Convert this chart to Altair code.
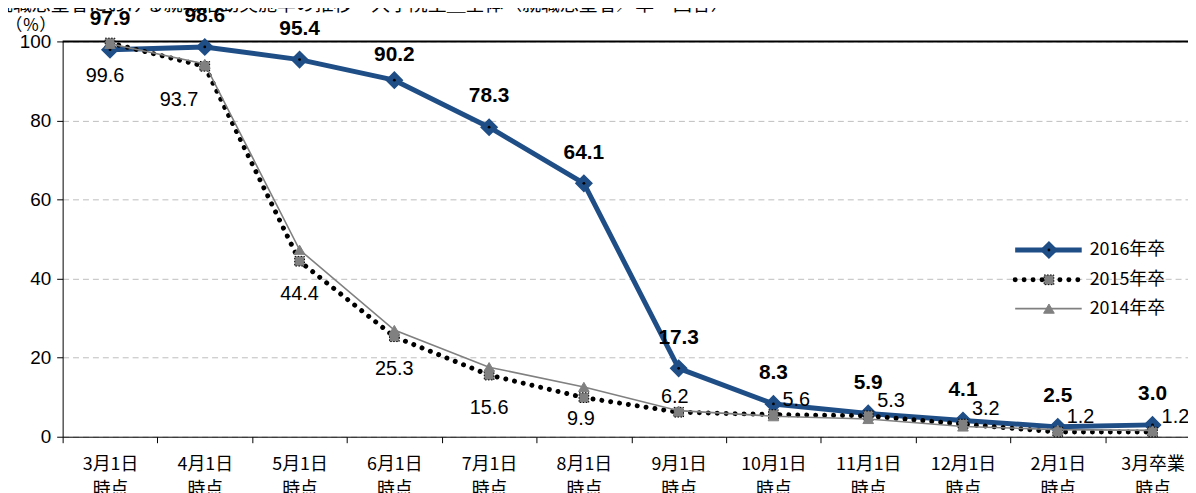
import altair as alt
import pandas as pd

# ---------------- data ----------------
categories = ["3月1日 時点", "4月1日 時点", "5月1日 時点", "6月1日 時点", "7月1日 時点",
              "8月1日 時点", "9月1日 時点", "10月1日 時点", "11月1日 時点", "12月1日 時点",
              "2月1日 時点", "3月卒業 時点"]
series_names = ["2016年卒", "2015年卒", "2014年卒"]
v2016 = [97.9, 98.6, 95.4, 90.2, 78.3, 64.1, 17.3, 8.3, 5.9, 4.1, 2.5, 3.0]
v2015 = [99.6, 93.7, 44.4, 25.3, 15.6, 9.9, 6.2, 5.6, 5.3, 3.2, 1.2, 1.2]
v2014 = [99.4, 94.3, 47.3, 27.0, 17.6, 12.6, 6.6, 5.2, 4.5, 2.6, 1.8, 1.6]
y_ticks = [0, 20, 40, 60, 80, 100]
title_text = "就職志望者における就職活動実施率の推移　大学院生＿全体（就職志望者／単一回答）"
unit_text = "（％）"


def frame(values):
    return pd.DataFrame({"cat": categories, "value": values,
                         "idx": list(range(len(values))),
                         "label": [f"{v:.1f}" for v in values]})


d16, d15, d14 = frame(v2016), frame(v2015), frame(v2014)

# ---------------- style ----------------
BLUE = "#1F4E87"
GRAY = "#808080"
NUM_FONT = "Liberation Sans Narrow, Arial Narrow, Liberation Sans, Arial"
BOLD_FONT = "Liberation Sans, Arial"
CJK_FONT = "Noto Sans CJK JP"
PLOT_W = 1145   # full band range (right part runs past the picture edge)
VIEW_W = 1133
VIEW_H = 398

x_enc = alt.X("cat:N", title=None,
              scale=alt.Scale(type="band", domain=categories, range=[0, PLOT_W],
                              paddingInner=0, paddingOuter=0),
              axis=alt.Axis(labelExpr="isValid(datum.value) ? split(datum.value, ' ') : ''",
                            labelAngle=0,
                            tickBand="extent", tickSize=6, tickColor="black",
                            domainColor="black", labelPadding=13, labelLineHeight=25,
                            labelFont=CJK_FONT, labelFontSize=18, labelColor="black",
                            labelBaseline="top", grid=False))
y_enc = alt.Y("value:Q", title=None,
              scale=alt.Scale(domain=[0, 100], nice=False),
              axis=alt.Axis(values=y_ticks, tickSize=6, tickColor="black",
                            domainColor="black", labelPadding=6,
                            labelFont=NUM_FONT, labelFontSize=19, labelColor="black",
                            grid=True, gridColor="#BDBDBD", gridDash=[6, 4],
                            gridWidth=1))


def base(df):
    return alt.Chart(df).encode(x=x_enc, y=y_enc)


layers = []

# top frame line
one = pd.DataFrame({"k": [0]})
layers.append(alt.Chart(one).mark_rule(color="black", strokeWidth=2).encode(
    x=alt.value(0), x2=alt.value(PLOT_W), y=alt.value(0)))

# 2016
layers.append(base(d16).mark_line(color=BLUE, strokeWidth=5, strokeJoin="round"))
layers.append(base(d16).mark_point(shape="diamond", filled=True, size=260, fill=BLUE,
                                   stroke=BLUE, strokeWidth=1.5, opacity=1))
layers.append(base(d16).mark_point(shape="circle", filled=True, size=8, color="black",
                                   opacity=1))
# 2015
layers.append(base(d15).mark_line(color="black", strokeWidth=5, strokeDash=[0.01, 9],
                                  strokeCap="round"))
layers.append(base(d15).mark_point(shape="square", filled=True, size=95, fill=GRAY,
                                   stroke="black", strokeWidth=1, strokeDash=[1.5, 1.5],
                                   opacity=1))
# 2014
layers.append(base(d14).mark_line(color=GRAY, strokeWidth=1.6))
layers.append(base(d14).mark_point(shape="triangle-up", filled=True, size=115, fill=GRAY,
                                   stroke=GRAY, strokeWidth=1, opacity=1))


def labels(df, idxs, dx, dy, bold):
    mk = dict(dx=dx, dy=dy, align="center", baseline="middle", color="black")
    if bold:
        mk.update(font=BOLD_FONT, fontSize=21, fontWeight="bold")
    else:
        mk.update(font=NUM_FONT, fontSize=20)
    return base(df).transform_filter(
        alt.FieldOneOfPredicate(field="idx", oneOf=idxs)
    ).mark_text(**mk).encode(text="label:N")


# 2016 labels (above)
layers.append(labels(d16, [0, 1, 2, 4, 5, 6, 7, 8, 9, 10, 11], 0, -31, True))
layers.append(labels(d16, [3], 0, -25, True))
# 2015 labels
layers.append(labels(d15, [0], -5, 33, False))
layers.append(labels(d15, [1], -26, 34, False))
layers.append(labels(d15, [2, 3, 4], 0, 33, False))
layers.append(labels(d15, [5], -3, 22, False))
layers.append(labels(d15, [6], -4, -15, False))
layers.append(labels(d15, [7, 8, 9, 10, 11], 23, -15, False))

# unit label and (cut-off) title
layers.append(alt.Chart(pd.DataFrame({"t": [unit_text]})).mark_text(
    font=CJK_FONT, fontSize=17, align="center", baseline="middle", color="black"
).encode(text="t:N", x=alt.value(-32), y=alt.value(-15)))
layers.append(alt.Chart(pd.DataFrame({"t": [title_text]})).mark_text(
    font=CJK_FONT, fontSize=19, align="left", baseline="alphabetic", color="black"
).encode(text="t:N", x=alt.value(-69), y=alt.value(-31)))

# custom legend (line + marker symbols)
LEG_X1, LEG_X2, LEG_MX, LEG_TX = 959, 1026, 993, 1034
LEG_Y = [210, 240, 269]
leg_line = [dict(color=BLUE, strokeWidth=5),
            dict(color="black", strokeWidth=5, strokeDash=[0.01, 9], strokeCap="round"),
            dict(color=GRAY, strokeWidth=1.6)]
leg_pt = [dict(shape="diamond", filled=True, size=260, fill=BLUE, stroke=BLUE,
               strokeWidth=1.5, opacity=1),
          dict(shape="square", filled=True, size=95, fill=GRAY, stroke="black",
               strokeWidth=1, strokeDash=[1.5, 1.5], opacity=1),
          dict(shape="triangle-up", filled=True, size=115, fill=GRAY, stroke=GRAY,
               strokeWidth=1, opacity=1)]
for i, name in enumerate(series_names):
    ld = pd.DataFrame({"s": [name]})
    layers.append(alt.Chart(ld).mark_rule(**leg_line[i]).encode(
        x=alt.value(LEG_X1), x2=alt.value(LEG_X2), y=alt.value(LEG_Y[i])))
    layers.append(alt.Chart(ld).mark_point(**leg_pt[i]).encode(
        x=alt.value(LEG_MX), y=alt.value(LEG_Y[i])))
    if i == 0:
        layers.append(alt.Chart(ld).mark_point(shape="circle", filled=True, size=8,
                                               color="black", opacity=1).encode(
            x=alt.value(LEG_MX), y=alt.value(LEG_Y[i])))
    layers.append(alt.Chart(ld).mark_text(
        font=CJK_FONT, fontSize=18, align="left", baseline="middle", color="black"
    ).encode(text="s:N", x=alt.value(LEG_TX), y=alt.value(LEG_Y[i])))

chart = alt.layer(*layers).properties(
    width=VIEW_W, height=VIEW_H,
    padding={"left": 55, "top": 32, "right": 0, "bottom": 55},
    autosize=alt.AutoSizeParams(type="none"),
    background="white",
).configure_view(stroke=None)

chart.save("out.html", embed_options={"renderer": "svg", "actions": False})
